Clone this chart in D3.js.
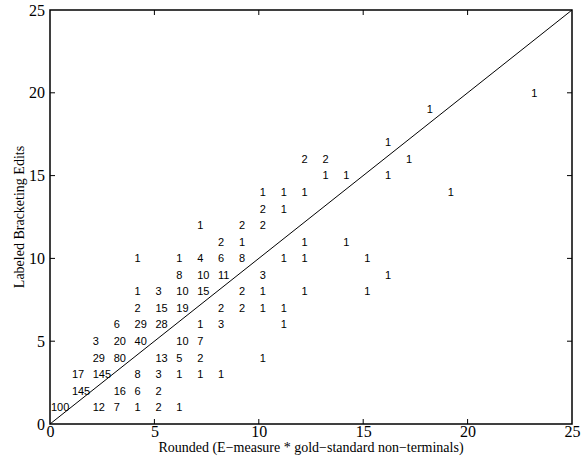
<!DOCTYPE html>
<html><head><meta charset="utf-8">
<script src="https://cdn.jsdelivr.net/npm/d3@7"></script>
<style>body{margin:0;background:#fff}</style>
</head><body><svg id="c" width="588" height="463"></svg>
<script>
// Each cell: [x, y, count]
const xs =     [0,2,3,4,5,6, 1,3,4,5, 1,2,4,5,6,7,8, 2,3,5,6,7,10, 2,3,4,6,7, 3,4,5,7,8,11, 4,5,6,8,9,10,11, 4,5,6,7,9,10,12,15, 6,7,8,10,16, 4,6,7,8,9,11,12,15, 8,9,12,14, 7,9,10, 10,11, 10,11,12,19, 13,14,16, 12,13,17, 16, 18, 23];
const ys =     [1,1,1,1,1,1, 2,2,2,2, 3,3,3,3,3,3,3, 4,4,4,4,4,4, 5,5,5,5,5, 6,6,6,6,6,6, 7,7,7,7,7,7,7, 8,8,8,8,8,8,8,8, 9,9,9,9,9, 10,10,10,10,10,10,10,10, 11,11,11,11, 12,12,12, 13,13, 14,14,14,14, 15,15,15, 16,16,16, 17, 19, 20];
const counts = [100,12,7,1,2,1, 145,16,6,2, 17,145,8,3,1,1,1, 29,80,13,5,2,1, 3,20,40,10,7, 6,29,28,1,3,1, 2,15,19,2,2,1,1, 1,3,10,15,2,1,1,1, 8,10,11,3,1, 1,1,4,6,8,1,1,1, 2,1,1,1, 1,2,2, 2,1, 1,1,1,1, 1,1,1, 2,2,1, 1, 1, 1];
const xTicks = [0,5,10,15,20,25];
const yTicks = [0,5,10,15,20,25];
const xLabel = "Rounded (E\u2212measure * gold\u2212standard non\u2212terminals)";
const yLabel = "Labeled Bracketing Edits";

const svg = d3.select("#c");
const L=50, R=572, T=10, B=424;
const x = d3.scaleLinear().domain([0,25]).range([L,R]);
const y = d3.scaleLinear().domain([0,25]).range([B,T]);
const serif = "'Liberation Serif','Times New Roman',serif";
const tl = 5;

const gx = svg.append("g").attr("transform",`translate(0,${B})`)
  .call(d3.axisBottom(x).tickValues(xTicks).tickSize(0).tickPadding(2));
const gy = svg.append("g").attr("transform",`translate(${L},0)`)
  .call(d3.axisLeft(y).tickValues(yTicks).tickSize(0).tickPadding(5));
[gx,gy].forEach(g=>{
  g.select(".domain").remove();
  g.selectAll("text").attr("font-family",serif).attr("font-size",16).attr("fill","#000");
});
gy.selectAll("text").attr("dy","0.32em");

// ticks inward on all sides
const tk = svg.append("g").attr("stroke","#000").attr("stroke-width",1);
xTicks.filter(v=>v>0&&v<25).forEach(v=>{
  tk.append("line").attr("x1",x(v)).attr("x2",x(v)).attr("y1",B).attr("y2",B-tl);
  tk.append("line").attr("x1",x(v)).attr("x2",x(v)).attr("y1",T).attr("y2",T+tl);
});
yTicks.filter(v=>v>0&&v<25).forEach(v=>{
  tk.append("line").attr("y1",y(v)).attr("y2",y(v)).attr("x1",L).attr("x2",L+tl);
  tk.append("line").attr("y1",y(v)).attr("y2",y(v)).attr("x1",R).attr("x2",R-tl);
});

// frame
svg.append("rect").attr("x",L).attr("y",T).attr("width",R-L).attr("height",B-T)
  .attr("fill","none").attr("stroke","#000").attr("stroke-width",1.5);

// diagonal
svg.append("line").attr("x1",x(0)).attr("y1",y(0)).attr("x2",x(25)).attr("y2",y(25))
  .attr("stroke","#000").attr("stroke-width",1);

// counts
svg.append("g").selectAll("text").data(counts).join("text")
  .attr("x",(d,i)=>x(xs[i])+1).attr("y",(d,i)=>y(ys[i]))
  .attr("dy","0.35em")
  .attr("font-family","'Liberation Sans',Arial,sans-serif").attr("font-size",11)
  .attr("fill","#000").text(d=>d);

svg.append("text").attr("x",(L+R)/2).attr("y",452).attr("text-anchor","middle")
  .attr("font-family",serif).attr("font-size",14).text(xLabel);
svg.append("text").attr("transform",`translate(24,${(T+B)/2}) rotate(-90)`)
  .attr("text-anchor","middle").attr("font-family",serif).attr("font-size",14).text(yLabel);
</script></body></html>
